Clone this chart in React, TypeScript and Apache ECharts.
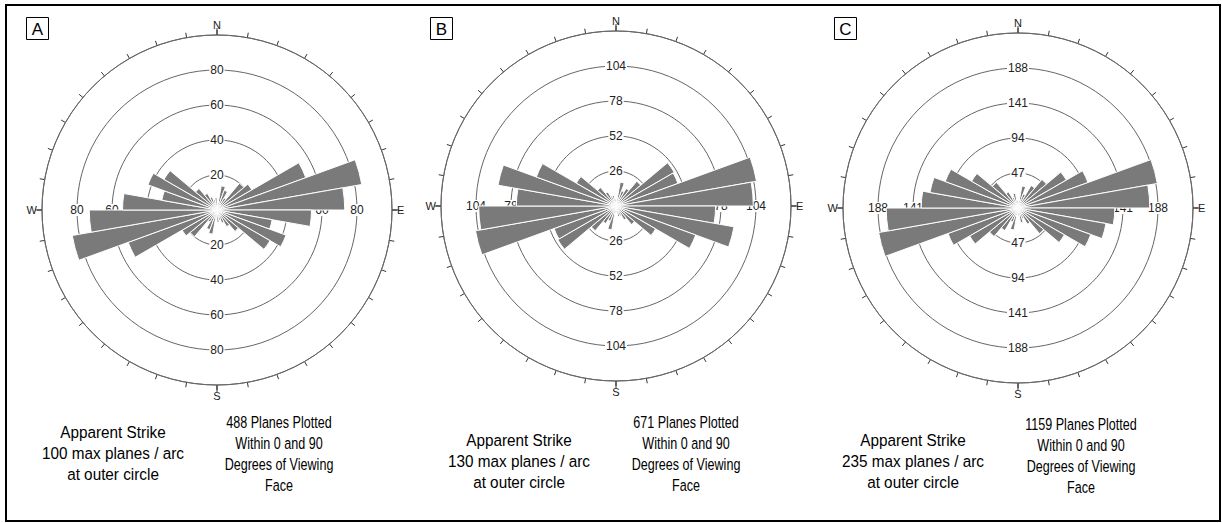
import React, { useEffect, useRef } from 'react';
import * as echarts from 'echarts';

// 10-degree azimuth sectors (bidirectional apparent-strike rose)
const sectors = [
  '0-10', '10-20', '20-30', '30-40', '40-50', '50-60', '60-70', '70-80', '80-90',
  '90-100', '100-110', '110-120', '120-130', '130-140', '140-150', '150-160', '160-170', '170-180',
  '180-190', '190-200', '200-210', '210-220', '220-230', '230-240', '240-250', '250-260', '260-270',
  '270-280', '280-290', '290-300', '300-310', '310-320', '320-330', '330-340', '340-350', '350-360',
];

const valuesA = [
  4, 14, 12, 8, 20, 23, 54, 84, 73, 54, 32, 42, 35, 16, 11, 8, 6, 7,
  4, 14, 12, 8, 20, 23, 54, 84, 73, 54, 32, 42, 35, 16, 11, 8, 6, 7,
];
const valuesB = [
  5, 18, 12, 15, 24, 50, 49, 106, 102, 74, 89, 63, 34, 18, 12, 8, 8, 5,
  5, 18, 12, 15, 24, 50, 49, 106, 102, 74, 89, 63, 34, 18, 12, 8, 8, 5,
];
const valuesC = [
  8, 30, 20, 35, 50, 75, 100, 190, 177, 130, 120, 104, 72, 45, 25, 15, 20, 10,
  8, 30, 20, 35, 50, 75, 100, 190, 177, 130, 120, 104, 72, 45, 25, 15, 20, 10,
];

const panelLetters = ['A', 'B', 'C'];
const outerMax = [100, 130, 235];
const ringStep = [20, 26, 47];
const cardinalLabels = ['N', 'E', 'S', 'W'];

const strikeNotes = [
  ['Apparent Strike', '100 max planes / arc', 'at outer circle'],
  ['Apparent Strike', '130 max planes / arc', 'at outer circle'],
  ['Apparent Strike', '235 max planes / arc', 'at outer circle'],
];
const plottedNotes = [
  ['488 Planes Plotted', 'Within 0 and 90', 'Degrees of Viewing', 'Face'],
  ['671 Planes Plotted', 'Within 0 and 90', 'Degrees of Viewing', 'Face'],
  ['1159 Planes Plotted', 'Within 0 and 90', 'Degrees of Viewing', 'Face'],
];

// layout (pixels)
const centers = [[217, 210], [616, 206], [1018, 208]];
const R = 175;
const letterBoxes = [[26, 17], [430, 17], [834, 17]];
const strikeNotePos = [[113, 421], [519, 429], [913, 429]];
const plottedNotePos = [[279, 411], [686, 411], [1081, 413]];

const FONT = "'Liberation Sans', Arial, sans-serif";

export default function App() {
  const ref = useRef<HTMLDivElement>(null);

  useEffect(() => {
    const chart = echarts.init(ref.current as HTMLDivElement, null, { renderer: 'svg' });
    const allValues = [valuesA, valuesB, valuesC];

    const polar: any[] = [];
    const angleAxis: any[] = [];
    const radiusAxis: any[] = [];
    const series: any[] = [];
    const graphic: any[] = [];

    panelLetters.forEach((letter, p) => {
      const max = outerMax[p];
      const step = ringStep[p];
      const center = centers[p];

      // main polar: rings, outer circle, 10-degree ticks, bars
      const main = polar.length;
      polar.push({ center, radius: R });
      angleAxis.push({
        polarIndex: main,
        type: 'category',
        data: sectors,
        startAngle: 90,
        clockwise: true,
        boundaryGap: true,
        z: 1,
        axisLine: { show: true, lineStyle: { color: '#666', width: 1 } },
        axisTick: { show: true, interval: 0, length: 5, inside: false, lineStyle: { color: '#333', width: 1 } },
        axisLabel: { show: false, interval: 0 },
        splitLine: { show: false },
      });
      radiusAxis.push({
        polarIndex: main,
        type: 'value',
        min: 0,
        max,
        interval: step,
        z: 0,
        axisLine: { show: false },
        axisTick: { show: false },
        axisLabel: { show: false },
        splitLine: { show: true, lineStyle: { color: '#666', width: 1 } },
      });

      // ring value labels along N, E, S, W
      [90, 0, 270, 180].forEach((sa) => {
        const idx = polar.length;
        polar.push({ center, radius: R });
        angleAxis.push({ polarIndex: idx, type: 'value', min: 0, max: 360, startAngle: sa, show: false });
        radiusAxis.push({
          polarIndex: idx,
          type: 'value',
          min: 0,
          max,
          interval: step,
          z: 1,
          axisLine: { show: false },
          axisTick: { show: false },
          splitLine: { show: false },
          axisLabel: {
            show: true,
            margin: 0,
            showMinLabel: false,
            showMaxLabel: false,
            align: 'center',
            verticalAlign: 'middle',
            fontSize: 12,
            fontFamily: FONT,
            color: '#222',
            backgroundColor: '#fff',
            padding: [0, 1],
            formatter: (v: number) => (v > 0 && v < max ? String(v) : ''),
          },
        });
      });

      // cardinal letters
      const card = polar.length;
      polar.push({ center, radius: R });
      angleAxis.push({
        polarIndex: card,
        type: 'value',
        min: 0,
        max: 360,
        interval: 90,
        startAngle: 90,
        clockwise: true,
        z: 1,
        axisLine: { show: false },
        axisTick: { show: true, length: 7, lineStyle: { color: '#333', width: 1 } },
        splitLine: { show: false },
        axisLabel: {
          show: true,
          margin: 5,
          fontSize: 11,
          fontFamily: FONT,
          color: '#222',
          formatter: (v: number) => (v < 360 ? cardinalLabels[Math.round(v / 90)] : ''),
        },
      });
      radiusAxis.push({ polarIndex: card, type: 'value', min: 0, max: 1, show: false });

      series.push({
        type: 'bar',
        coordinateSystem: 'polar',
        polarIndex: main,
        data: allValues[p],
        barCategoryGap: '0%',
        z: 3,
        itemStyle: { color: '#7a7a7a', borderColor: '#ffffff', borderWidth: 1 },
      });

      // panel letter box
      const [bx, by] = letterBoxes[p];
      graphic.push({
        type: 'rect',
        shape: { x: bx + 0.5, y: by + 0.5, width: 22, height: 22 },
        style: { fill: '#fff', stroke: '#000', lineWidth: 1 },
      });
      graphic.push({
        type: 'text',
        x: bx + 11.5,
        y: by + 12,
        style: { text: letter, fontSize: 17, fontFamily: FONT, fill: '#000', textAlign: 'center', textVerticalAlign: 'middle' },
      });

      // captions
      [
        { lines: strikeNotes[p], pos: strikeNotePos[p], sx: 0.9 },
        { lines: plottedNotes[p], pos: plottedNotePos[p], sx: 0.74 },
      ].forEach(({ lines, pos, sx }) => {
        graphic.push({
          type: 'text',
          x: pos[0],
          y: pos[1],
          scaleX: sx,
          style: {
            text: lines.join('\n'),
            fontSize: 17,
            lineHeight: 21,
            fontFamily: FONT,
            fill: '#000',
            textAlign: 'center',
            textVerticalAlign: 'top',
          },
        });
      });
    });

    // outer frame
    graphic.push({
      type: 'rect',
      shape: { x: 6, y: 5, width: 1214, height: 516 },
      style: { fill: 'none', stroke: '#000', lineWidth: 2 },
    });

    chart.setOption({
      animation: false,
      backgroundColor: '#fff',
      polar,
      angleAxis,
      radiusAxis,
      series,
      graphic,
    });

    return () => chart.dispose();
  }, []);

  return (
    <div
      ref={ref}
      style={{ position: 'absolute', left: 0, top: 0, width: 1222, height: 523, background: '#fff' }}
    />
  );
}
